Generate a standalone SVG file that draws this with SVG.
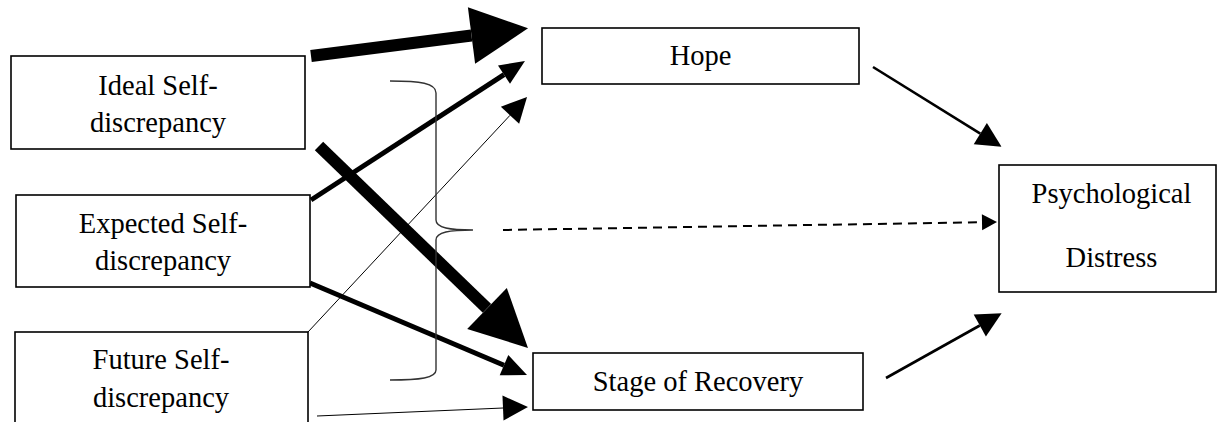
<svg xmlns="http://www.w3.org/2000/svg" width="1219" height="422" viewBox="0 0 1219 422">
<style>
.box{fill:#fff;stroke:#000;stroke-width:1.6}
.t{font-family:"Liberation Serif","Times New Roman",serif;font-size:28.5px;fill:#000;text-anchor:middle}
.c{fill:none;stroke:#000;stroke-linecap:butt}
.heavy{stroke-width:12}
.med{stroke-width:5}
.thin{stroke-width:1}
.mid{stroke-width:2.6}
.dash{stroke-width:2;stroke-dasharray:9 6}
.brace{fill:none;stroke:#333;stroke-width:1.4}
</style>
<defs>
<marker id="mBig" markerUnits="userSpaceOnUse" markerWidth="58" markerHeight="58" refX="0" refY="28.5" orient="auto" overflow="visible"><path d="M0,0 L57,28.5 L0,57 z" fill="#000"/></marker>
<marker id="mMed" markerUnits="userSpaceOnUse" markerWidth="26" markerHeight="24" refX="0" refY="11" orient="auto" overflow="visible"><path d="M0,0 L25,11 L0,22 z" fill="#000"/></marker>
<marker id="mSmall" markerUnits="userSpaceOnUse" markerWidth="26" markerHeight="26" refX="0" refY="12.5" orient="auto" overflow="visible"><path d="M0,0 L25,12.5 L0,25 z" fill="#000"/></marker>
<marker id="mDash" markerUnits="userSpaceOnUse" markerWidth="16" markerHeight="16" refX="0" refY="8" orient="auto" overflow="visible"><path d="M0,0 L15,8 L0,16 z" fill="#000"/></marker>
</defs>
<rect width="1219" height="422" fill="#fff"/>
<g id="connectors">
<line class="c heavy" x1="311" y1="56" x2="471.5" y2="35.5" marker-end="url(#mBig)"/>
<line class="c heavy" x1="319" y1="146" x2="487" y2="308.4" marker-end="url(#mBig)"/>
<line class="c med" x1="311" y1="200" x2="504" y2="74.6" marker-end="url(#mMed)"/>
<line class="c med" x1="310" y1="283" x2="504" y2="365.2" marker-end="url(#mMed)"/>
<line class="c thin" x1="308" y1="332" x2="510" y2="115.3" marker-end="url(#mSmall)"/>
<line class="c thin" x1="317" y1="416" x2="503" y2="408" marker-end="url(#mSmall)"/>
<line class="c mid" x1="873" y1="67" x2="980.3" y2="133.6" marker-end="url(#mSmall)"/>
<line class="c mid" x1="886" y1="378" x2="979.8" y2="325.5" marker-end="url(#mSmall)"/>
<line class="c dash" x1="503" y1="230" x2="982" y2="222.2" marker-end="url(#mDash)"/>
<path class="brace" d="M390,81 C420,81 436,83 436,93 L436,220 C436,228 450,230 473,230 C450,230 436,232 436,240 L436,370 C436,378 420,380 390,380"/>
</g>
<g id="ideal">
<rect class="box" x="11" y="56" width="294" height="93"/>
<text class="t" x="158" y="95">Ideal Self-</text>
<text class="t" x="158" y="132">discrepancy</text>
</g>
<g id="expected">
<rect class="box" x="16" y="195" width="294" height="92"/>
<text class="t" x="163" y="233">Expected Self-</text>
<text class="t" x="163" y="270">discrepancy</text>
</g>
<g id="future">
<rect class="box" x="15" y="332" width="293" height="100"/>
<text class="t" x="161" y="369">Future Self-</text>
<text class="t" x="161" y="407">discrepancy</text>
</g>
<g id="hope">
<rect class="box" x="542" y="28" width="317" height="56"/>
<text class="t" x="700.5" y="65">Hope</text>
</g>
<g id="stage">
<rect class="box" x="533" y="353" width="330" height="57"/>
<text class="t" x="698" y="391">Stage of Recovery</text>
</g>
<g id="distress">
<rect class="box" x="999" y="165" width="217" height="127"/>
<text class="t" x="1111.5" y="203">Psychological</text>
<text class="t" x="1111.5" y="267">Distress</text>
</g>
</svg>
